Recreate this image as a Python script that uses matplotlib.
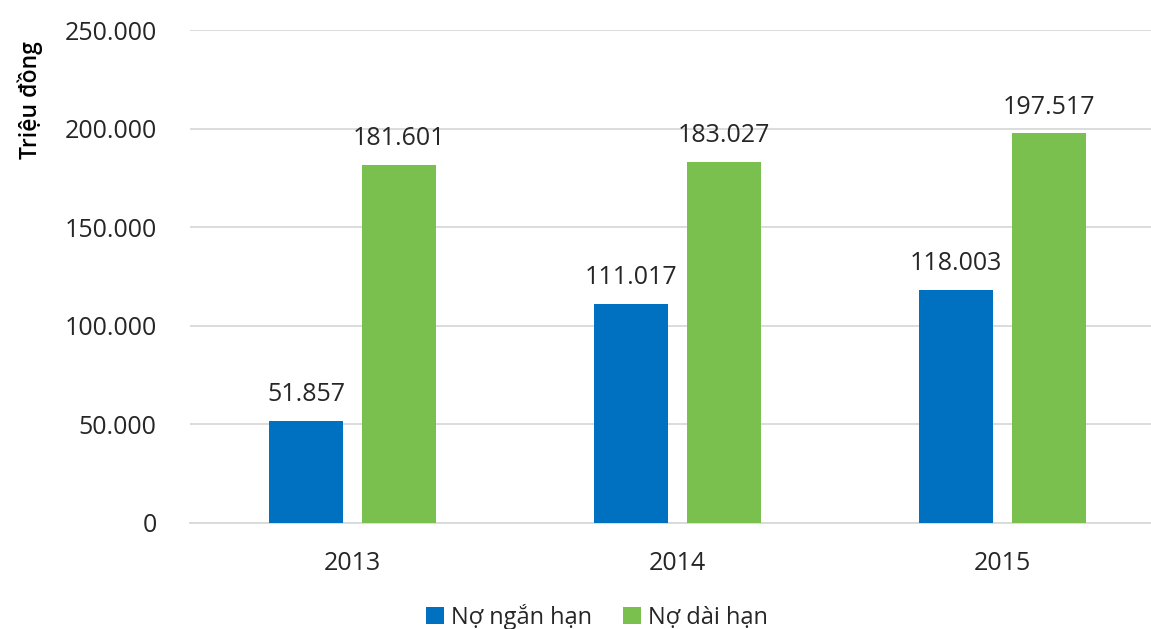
import matplotlib
matplotlib.use('Agg')
import matplotlib.pyplot as plt
from matplotlib.ticker import FuncFormatter
import numpy as np

years = ['2013', '2014', '2015']
short_debt = [51857, 111017, 118003]
long_debt = [181601, 183027, 197517]
series_names = ['Nợ ngắn hạn', 'Nợ dài hạn']
colors = ['#0070C0', '#7AC04F']

plt.rcParams['font.family'] = ['Open Sans', 'DejaVu Sans']

def vn_fmt(v, pos=None):
    # Vietnamese thousands separator is "."
    return f'{int(round(v)):,}'.replace(',', '.')

fig = plt.figure(figsize=(11.51, 6.29), dpi=100)
ax = fig.add_axes([190 / 1151, 1 - 523 / 629, 975 / 1151, 493 / 629])

x = np.arange(len(years))
w = 0.225
off = 0.143
b1 = ax.bar(x - off, short_debt, w, color=colors[0], label=series_names[0], zorder=3)
b2 = ax.bar(x + off, long_debt, w, color=colors[1], label=series_names[1], zorder=3)

for bars, vals in [(b1, short_debt), (b2, long_debt)]:
    for r, v in zip(bars, vals):
        ax.text(r.get_x() + r.get_width() / 2, v + 7000, vn_fmt(v),
                ha='center', va='bottom', fontsize=18, color='#262626')

ax.set_xlim(-0.5, 2.5)
ax.set_ylim(0, 250000)
ax.set_yticks(np.arange(0, 250001, 50000))
ax.yaxis.set_major_formatter(FuncFormatter(vn_fmt))
ax.set_xticks(x)
ax.set_xticklabels(years)
ax.grid(axis='y', color='#D9D9D9', linewidth=1.3, zorder=0)
for s in ['top', 'right', 'left']:
    ax.spines[s].set_visible(False)
ax.spines['bottom'].set_color('#D9D9D9')
ax.spines['bottom'].set_linewidth(1.3)
ax.tick_params(axis='both', length=0, labelsize=18, labelcolor='#262626')
ax.tick_params(axis='y', pad=24)
ax.tick_params(axis='x', pad=20)

fig.text(30 / 1151, 1 - 100 / 629, 'Triệu đồng', rotation=90, ha='center', va='center',
         fontsize=16.5, fontweight='semibold', color='black')

fig.legend(handles=[b1, b2], labels=series_names, loc='center', bbox_to_anchor=(597 / 1151, 1 - 617 / 629),
           ncol=2, frameon=False, fontsize=17, handlelength=0.75, handleheight=0.75,
           handletextpad=0.3, columnspacing=1.3, labelcolor='#262626')

fig.savefig('out.png', dpi=100)
